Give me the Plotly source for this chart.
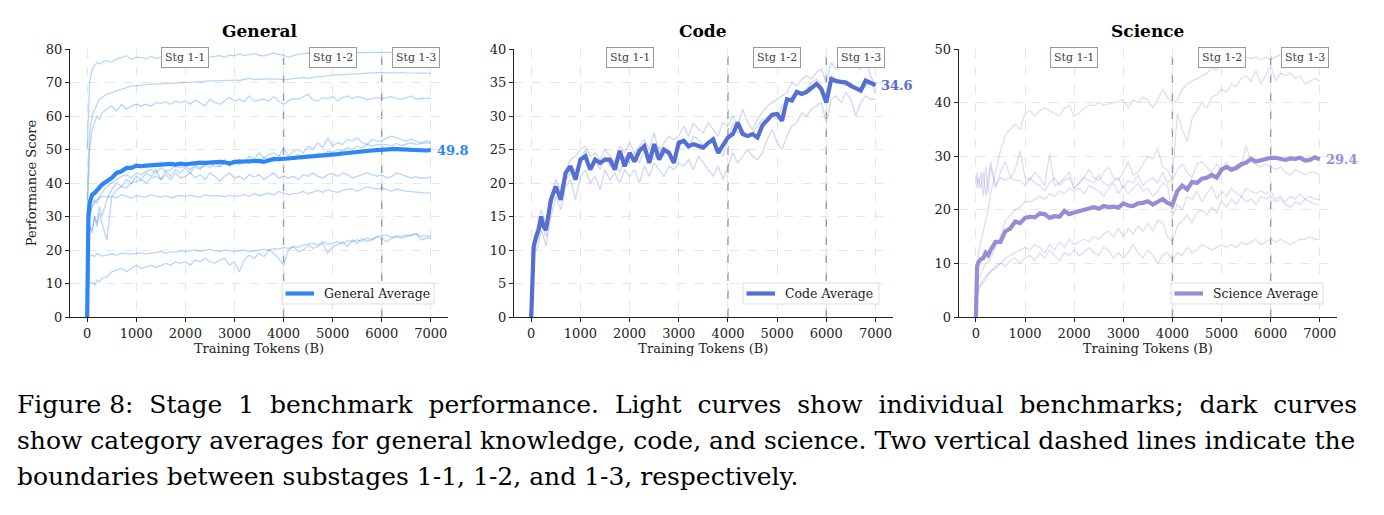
import plotly.graph_objects as go

# ---------------- data ----------------
X = [0, 25, 50, 100, 150, 200, 250, 300, 400, 500, 600, 700, 800, 900, 1000,
     1100, 1200, 1300, 1400, 1500, 1600, 1700, 1800, 1900, 2000,
     2100, 2200, 2300, 2400, 2500, 2600, 2700, 2800, 2900, 3000,
     3100, 3200, 3300, 3400, 3500, 3600, 3700, 3800, 3900, 4000,
     4100, 4200, 4300, 4400, 4500, 4600, 4700, 4800, 4900, 5000,
     5100, 5200, 5300, 5400, 5500, 5600, 5700, 5800, 5900, 6000,
     6100, 6200, 6300, 6400, 6500, 6600, 6700, 6800, 6900, 7000]

general_avg = [0, 30, 34, 36.5, 37, 38, 39, 39.5, 40.5, 41.5, 43, 43.5, 44.5, 44.5, 45.2,
               45, 45.2, 45.3, 45.5, 45.4, 45.6, 45.7, 45.5, 45.8, 45.6,
               45.8, 46, 46.1, 46, 46.2, 46.1, 46.3, 46.2, 45.8, 46.3,
               46.4, 46.2, 46.6, 46.4, 46.6, 46.3, 46.9, 47.2, 47.1, 47.2,
               47.3, 47.6, 47.5, 47.8, 47.8, 47.9, 48.2, 48.0, 48.4, 48.5,
               48.6, 48.8, 49.0, 49.1, 49.3, 49.6, 49.8, 49.7, 49.8, 50.0,
               49.9, 50.1, 50.1, 50.0, 50.0, 50.1, 49.9, 49.8, 49.7, 49.8]

general_b1 = [50, 60, 70, 74, 75, 76, 75.5, 76, 76.5, 76, 77, 77.5, 78, 77, 77.5,
              77.5, 77, 77.8, 77.2, 77.5, 78, 77, 77.5, 77.8, 77.5,
              78.5, 77.8, 77.5, 78, 77.6, 77.8, 78, 77.5, 78.2, 78,
              78.5, 78, 78.3, 78.6, 78.2, 77.9, 78.4, 78.8, 78.4, 78.2,
              77.5, 78, 78.5, 78.6, 78.8, 78.5, 78.7, 78.6, 78.8, 79,
              78.8, 79, 78.9, 79, 79, 78.9, 79, 79, 79, 79,
              79, 79.2, 79, 79.1, 79, 79.2, 79, 79.1, 79, 79]
general_b2 = [35, 45, 55, 60, 62, 63.5, 65, 65.5, 66.5, 67, 67.5, 68, 68.5, 69, 69,
              69.2, 69.3, 69.5, 69.5, 69.6, 69.8, 69.7, 70, 69.9, 70,
              70.1, 70.2, 70.2, 70.4, 70.5, 70.5, 70.6, 70.5, 70.8, 70.7,
              70.6, 71, 71.2, 70.9, 71, 71.2, 71.1, 71, 71.1, 70.8,
              70.9, 71, 71.3, 71.5, 71.2, 71.5, 71.6, 71.8, 72, 72.2,
              72.3, 72.4, 72.5, 72.6, 72.6, 72.7, 72.8, 72.8, 72.9, 73,
              72.9, 73, 72.8, 73, 72.9, 72.8, 72.9, 72.8, 72.8, 72.8]
general_b3 = [30, 40, 50, 56, 58, 60, 59, 61, 62, 63, 61.5, 63.5, 62, 63, 63.5,
              63, 63.5, 63, 64, 63.8, 64.2, 63.5, 64.5, 64, 64.5,
              63.5, 64.8, 64, 63, 65, 64, 63.5, 64.5, 65.5, 64.5,
              65, 64.2, 66, 64.5, 64.8, 65, 64.5, 65.8, 64.5, 63.5,
              64.5, 65.2, 65, 65.8, 66.5, 64.8, 64.5, 65.5, 65.2, 65.8,
              64.5, 65.5, 66, 65.2, 65.8, 65.5, 64.8, 65.2, 65.5, 65.2,
              65.5, 65.8, 65.2, 65, 65.5, 66, 65, 65.3, 65.2, 65.3]
general_b4 = [20, 22, 27, 25, 30, 28, 33, 30, 35, 38, 40, 39, 41, 40, 42,
              41, 43, 42, 44, 41, 43.5, 42, 44, 43, 44.5,
              43, 45, 44, 46, 44.5, 46, 45, 47, 45, 46.5,
              47, 46, 48, 47, 49, 47.5, 48.5, 49, 48, 50.5,
              48, 49.5, 50, 49, 51, 50, 52, 50.5, 53.5, 51,
              52, 51.5, 53, 52.5, 53.5, 52, 51.5, 53, 52.5, 52.5,
              53.5, 54, 53.5, 53, 52.5, 53, 52.5, 52, 52.5, 52.2]
general_b5 = [22, 25, 30, 33, 35, 34, 36, 37, 39, 40, 41, 42, 42.5, 41.5, 43,
              42.5, 43.5, 44, 43, 44.5, 43.5, 44, 45, 44.5, 45,
              44, 45.5, 44.5, 45.2, 46, 45, 44.8, 46, 45.5, 46.2,
              45.5, 46.5, 45.8, 47, 46.2, 47.5, 47, 46.5, 48, 47.5,
              46.8, 47.5, 48.5, 47.8, 48.5, 48, 49, 48.5, 49.5, 49.2,
              50, 49.5, 50.5, 50, 51, 50.5, 51.5, 51, 51.5, 51.3,
              51.5, 51, 51.8, 51.2, 51.5, 52, 51.5, 51.8, 52, 51.8]
general_b6 = [18, 20, 27, 26, 30, 27, 31, 28, 23, 36, 38, 39, 38.5, 40, 40.5,
              41, 40, 41.5, 42, 41, 42.5, 41, 43, 41.5, 42,
              43, 41.5, 42.5, 41, 43, 42, 40.5, 42, 43, 41.5,
              42, 41, 42.5, 41.8, 42.5, 41, 42, 43, 41.5, 42,
              41.5, 42, 41, 42.5, 42, 43, 42, 41.5, 42.5, 42.8,
              42, 43, 42.5, 41.5, 42, 42.5, 43, 42.5, 42, 42.5,
              41.5, 42, 43, 42.5, 42, 41.5, 41.8, 41.5, 41.5, 41.8]
general_b7 = [20, 25, 30, 33, 34, 35, 35.5, 36, 35.8, 36, 35.5, 36.5, 36, 35.5, 36.2,
              36, 35.8, 36.5, 36, 35.8, 36.2, 35.6, 36, 36.3, 36,
              36.4, 36, 35.8, 36.5, 36.1, 36.3, 36, 35.9, 36.3, 36,
              36.2, 36.5, 36, 36.8, 36.2, 36.6, 37, 36.4, 37.5, 37,
              36.5, 36.8, 37, 37.5, 36.8, 37.3, 37.8, 37.2, 38, 37.5,
              37.2, 37.8, 38, 38.3, 37.5, 38.2, 38.8, 38.5, 38.2, 38.5,
              38, 37.6, 38.2, 37.8, 37.5, 37.4, 37.2, 37, 37, 37.1]
general_b8 = [17, 17.5, 18, 18.5, 18, 19, 18.5, 18.2, 18.5, 18.8, 18.5, 19, 19, 18.8, 19,
              19.2, 18.8, 19, 19.3, 19.5, 19, 19.5, 19.3, 19.8, 19.5,
              19.8, 20, 19.6, 20, 20.2, 19.8, 19.5, 20, 19.8, 19.5,
              19.8, 20, 19.5, 19.8, 20, 20.2, 20, 20.5, 20.2, 20.8,
              20.5, 21, 20.8, 21.5, 21.8, 22, 21.5, 22.5, 21.8, 22,
              22.5, 21.8, 22.8, 22.5, 23, 22.6, 23.5, 23.2, 24, 24.2,
              24.5, 23.8, 24.2, 24, 24.5, 24.2, 24.8, 24, 24.2, 24]
general_b9 = [8, 9, 10, 10.5, 9.5, 11, 10.5, 11.5, 12, 13.5, 14, 14.5, 13.5, 14.5, 15.5,
              14.5, 15, 15.5, 14.8, 15.5, 16, 15.5, 16.5, 16, 16.5,
              15.5, 17, 16.5, 17.5, 16.5, 16, 17, 17.5, 15.5, 16.5,
              13.5, 17, 18.5, 17.5, 19, 18, 20, 19, 17.5, 15.5,
              20, 21, 19.5, 20, 21.5, 20.5, 21, 22, 19, 21,
              21.5, 22.5, 21, 23, 22, 23.5, 22.5, 23, 24, 23.5,
              22.5, 23.5, 24, 23.5, 24, 24.5, 25, 23, 23.5, 23.5]

code_avg = [0, 7, 10.5, 12, 13, 15, 13.5, 13, 17.5, 19.5, 17.5, 21.5, 22.5, 20.5, 23.5,
            24, 22, 23.5, 23, 23.5, 23.5, 22, 24.8, 22.5, 24.5,
            23.2, 24.8, 25.5, 23, 25.8, 23.5, 25, 24.5, 23, 26,
            26.3, 25.5, 25.8, 25.5, 25.3, 26, 26.5, 24.5, 25.8, 26.8,
            27.3, 29, 27.3, 27, 27.3, 26.8, 28.6, 29.5, 30.2, 30.3,
            29.3, 32.5, 32.3, 33.6, 33.3, 33.6, 34.2, 34.8, 34, 32,
            35.5, 35.2, 35.1, 35, 34.5, 34.2, 33.8, 35.3, 34.9, 34.6]
code_b1 = [0, 8, 11, 13, 14, 16, 15, 14, 18, 20.5, 19, 22, 23.5, 24, 25,
           25.5, 24, 24.5, 23.5, 25, 24, 23, 25.5, 24.5, 26,
           24.5, 25.5, 26.5, 25, 27.5, 24.5, 26, 27, 26.5, 27,
           28.5, 27, 29, 28, 27.5, 29, 28, 27, 29, 28.5,
           30, 28.5, 31, 29, 28, 29.5, 30.5, 31.5, 32, 32.5,
           33, 33.5, 35, 34.5, 35.5, 36, 35.5, 36.5, 37, 35,
           38, 37, 38.5, 37.5, 38, 37.5, 37, 38.5, 36, 34.5]
code_b2 = [0, 7, 10, 11, 12, 14.5, 13, 12, 16.5, 19, 18, 20.5, 21.5, 22, 23,
           25, 22.5, 23.5, 22, 24, 22.5, 23.5, 21.5, 24, 23,
           24.5, 23, 25, 24, 23.5, 25.5, 24, 25, 23.5, 25.5,
           26, 25, 27, 26.5, 25.5, 26, 27, 25, 24, 26.5,
           29, 27.5, 28, 27, 27.5, 28.5, 29.5, 29, 30, 29.5,
           31.5, 32, 33, 33.5, 33, 34, 35, 35.5, 34.5, 32.5,
           36, 35.5, 35, 34.5, 35, 34, 33.5, 34.5, 35, 33.5]
code_b3 = [0, 6, 9.5, 10, 11, 13, 12, 10.5, 15, 18, 16, 19.5, 20.5, 17.5, 21,
           22, 20, 21, 19, 22, 20.5, 21.5, 20, 22, 21,
           22, 20, 22.5, 21, 23, 22, 21, 22.5, 22, 23,
           22.5, 23.5, 22, 24, 23, 22, 21, 22.5, 20.5, 22.5,
           24.5, 23, 24, 25, 24, 23.5, 24.5, 26.5, 28, 26,
           25, 27, 28.5, 29, 30.5, 30, 31, 31.5, 32, 29,
           32.5, 33, 32, 33.5, 32.5, 30, 32, 33, 32.5, 32.5]

science_avg = [0, 9.5, 10.2, 10.8, 11, 12, 11.5, 12.5, 14, 14, 16, 16.5, 17.8, 17.5, 18.5,
               18.7, 18.6, 19.3, 19.2, 18.5, 18.8, 18.7, 19.8, 19.2, 19.5,
               19.8, 20.1, 20.3, 20.5, 20.2, 20.7, 20.5, 20.6, 20.4, 21.2,
               20.8, 20.7, 21.2, 21.3, 21.6, 21, 21.5, 22, 21.3, 20.9,
               23.5, 24.5, 23.8, 25.2, 25, 25.8, 26, 26.5, 26, 27.5,
               28, 27.5, 27.8, 28.5, 28.8, 29.5, 29, 29.3, 29.6, 29.7,
               29.7, 29.5, 29.3, 29.6, 29.5, 29.7, 29.2, 29.3, 29.8, 29.4]
science_b1 = [5, 8, 12, 14, 16, 18, 20, 23, 27, 31, 34, 35, 36, 35, 38,
              38.5, 37.5, 38.5, 39, 38.5, 38, 37.5, 39, 39.5, 37.5,
              38, 39, 39.5, 39.5, 40, 39.5, 39.8, 40, 40.2, 40.5,
              39, 40.5, 40, 41, 40.5, 39, 40.5, 42.5, 41, 40,
              40.5, 42.5, 43.5, 44, 44.5, 45, 45.5, 46.5, 46, 47,
              47.5, 48, 48.5, 48, 48.5, 48.2, 48.5, 48, 48.5, 48,
              48.5, 49, 48.5, 48.8, 48.5, 48.6, 48.5, 48.5, 48.3, 48.2]
science_b2 = [25, 27, 24, 27, 22.5, 28, 23, 29, 24.5, 26, 25.5, 26, 25.5, 25.5, 24.5,
              26, 25, 24.5, 23.5, 25, 26, 24.5, 25.5, 26, 24,
              25, 26, 25.5, 25, 26.5, 25, 24.5, 25.5, 26, 24,
              25.5, 25, 26.5, 24.5, 25.5, 26, 25, 27, 25, 26,
              38, 35, 32.7, 37, 38.5, 40, 39, 41, 41.5, 42.5,
              42, 43.5, 43, 44.5, 45, 44, 46, 43.5, 45, 47,
              44, 45.5, 45, 45.5, 44.5, 45, 43.5, 44, 44.5, 44]
science_b3 = [24, 25, 26, 24, 27, 22.5, 26, 28, 24, 27, 29, 26, 27.5, 31, 26,
              25.5, 27, 26, 24.5, 30.5, 24.5, 25, 26, 27, 24,
              25, 26, 27.5, 26, 25.5, 27, 28, 26, 25.5, 27,
              29, 26.5, 27, 28.5, 30, 29.5, 31.5, 28, 27.5, 25.5,
              27.5, 28.5, 27, 26, 28.5, 29, 28, 27, 28.5, 27.5,
              29, 27, 28.5, 28, 32, 29, 28.5, 28, 28.5, 28,
              27.5, 28, 27, 26.5, 27.5, 27, 26.5, 27, 27, 26.5]
science_b4 = [8, 5, 7, 8, 9, 10, 10, 11, 13, 15, 18, 19, 20, 20.5, 21.5,
              21.5, 22, 22.5, 22, 23, 22.5, 23.5, 23, 24, 23.5,
              24, 23, 24.5, 24, 23.5, 22.5, 24, 25, 23, 24.5,
              23, 24, 25, 23.5, 24, 22.5, 23.5, 25, 24.5, 19,
              21, 20, 22.5, 22, 23.5, 21.5, 23, 24.5, 22, 23.5,
              22.5, 24, 23, 22.5, 24, 23.5, 23, 23.5, 23, 23.5,
              22, 22.5, 21.5, 22.5, 22, 23, 22, 22.5, 22, 22]
science_b5 = [5, 4, 5, 6, 7, 7.5, 8, 8.5, 9.5, 10, 11, 11.5, 12, 12.5, 13,
              12.5, 13.5, 13, 12, 13.5, 12.5, 14, 13, 14.5, 13.5,
              14, 14.5, 14, 15, 14.5, 15.5, 16, 15, 16.5, 15,
              16.5, 15.5, 17, 16, 17.5, 16, 18, 17.5, 15, 14,
              17, 18, 19, 17.5, 19.5, 20, 19, 20.5, 19.5, 21.5,
              20.5, 22, 21, 22.5, 21.5, 22, 21, 22.5, 22, 22.5,
              21.5, 22, 21, 20.5, 21.5, 21, 22, 21.5, 21, 21]
science_b6 = [3, 3, 5, 6, 6.5, 7, 8, 8.5, 9, 10, 9.5, 10.5, 11, 10, 11,
              11.5, 10.5, 12, 11, 12.5, 11.5, 10.5, 12, 11.5, 12.5,
              11.5, 12, 13, 12, 11.5, 13, 12.5, 11, 12, 11,
              12, 13.5, 12, 11, 12.5, 11.5, 10, 11.5, 12, 10.5,
              12, 11.5, 13, 12, 12.5, 13.5, 13, 12.5, 13, 13.5,
              13, 13.5, 13, 14, 13.5, 14, 14.5, 13.5, 14, 14.5,
              14, 14.5, 14, 13.5, 14, 14.5, 14.5, 15, 14.5, 14.5]

panel_titles = ["General", "Code", "Science"]
legend_names = ["General Average", "Code Average", "Science Average"]
y_maxes = [80, 40, 50]
y_dticks = [10, 5, 10]
x_ticks = [0, 1000, 2000, 3000, 4000, 5000, 6000, 7000]
stage_bounds = [4000, 6000]
stage_labels = ["Stg 1-1", "Stg 1-2", "Stg 1-3"]
stage_label_x = [2000, 5000, 6700]
caption_lines = [
    "Figure 8:  Stage  1  benchmark  performance.  Light  curves  show  individual  benchmarks;  dark  curves",
    "show category averages for general knowledge, code, and science. Two vertical dashed lines indicate the",
    "boundaries between substages 1-1, 1-2, and 1-3, respectively.",
]

panels = [
    (general_avg, [general_b1, general_b2, general_b3, general_b4, general_b5,
                   general_b6, general_b7, general_b8, general_b9]),
    (code_avg, [code_b1, code_b2, code_b3]),
    (science_avg, [science_b1, science_b2, science_b3, science_b4, science_b5, science_b6]),
]
for avg, bs in panels:
    assert len(avg) == len(X), len(avg)
    for b in bs:
        assert len(b) == len(X), len(b)

# ---------------- style ----------------
W, H = 1384, 515
avg_colors = ["rgb(46,134,245)", "rgb(85,110,210)", "rgb(152,140,215)"]
light_colors = ["rgba(46,134,245,0.34)", "rgba(85,110,210,0.28)", "rgba(152,140,215,0.30)"]
x_px = [(70, 448), (514, 892.7), (958.7, 1337)]
y_px = (49, 317)
# legend boxes (left, right, top, bottom) in pixels
legend_box_px = [(282, 434, 283, 304), (743, 879, 283, 304), (1171, 1323, 283, 304)]
FONT = "DejaVu Serif"


def px_x(v):
    return v / W


def px_y(v):
    return 1 - v / H


fig = go.Figure()
layout_upd = {}
annotations = []
shapes = []

for i, (avg, bs) in enumerate(panels):
    sfx = "" if i == 0 else str(i + 1)
    xa, ya = "x" + sfx, "y" + sfx
    for b in bs:
        fig.add_trace(go.Scatter(x=X, y=b, mode="lines", xaxis=xa, yaxis=ya,
                                 line=dict(color=light_colors[i], width=1.3),
                                 showlegend=False, hoverinfo="skip"))
    fig.add_trace(go.Scatter(x=X, y=avg, mode="lines", xaxis=xa, yaxis=ya,
                             name=legend_names[i], showlegend=False,
                             line=dict(color=avg_colors[i], width=4.2)))

    x0, x1 = x_px[i]
    layout_upd["xaxis" + sfx] = dict(
        domain=[x0 / W, x1 / W], anchor=ya, range=[-350, 7350],
        tickvals=x_ticks, ticks="outside", ticklen=4, tickwidth=1, tickcolor="#222",
        showline=True, linecolor="#222", linewidth=1.3, mirror=False,
        showgrid=True, gridcolor="#e6e6e6", griddash="dash", gridwidth=0.8,
        zeroline=False, automargin=False,
        tickfont=dict(family=FONT, size=13, color="#222"),
        title=dict(text="Training Tokens (B)", standoff=3,
                   font=dict(family=FONT, size=13, color="#222")),
    )
    ydict = dict(
        domain=[1 - y_px[1] / H, 1 - y_px[0] / H], anchor=xa, range=[0, y_maxes[i]],
        dtick=y_dticks[i], tick0=0, ticks="outside", ticklen=4, tickwidth=1, tickcolor="#222",
        showline=True, linecolor="#222", linewidth=1.3,
        showgrid=True, gridcolor="#e6e6e6", griddash="dash", gridwidth=0.8,
        zeroline=False, automargin=False,
        tickfont=dict(family=FONT, size=13, color="#222"),
    )
    if i == 0:
        ydict["title"] = dict(text="Performance Score", standoff=6,
                              font=dict(family=FONT, size=13, color="#222"))
    layout_upd["yaxis" + sfx] = ydict

    # legend (drawn as box + sample line + label)
    L, R, T, B = legend_box_px[i]
    shapes.append(dict(type="rect", xref="paper", yref="paper",
                       x0=px_x(L), x1=px_x(R), y0=px_y(B), y1=px_y(T),
                       line=dict(color="#dddddd", width=1), fillcolor="rgba(255,255,255,0.85)",
                       layer="above"))
    my = (T + B) / 2
    shapes.append(dict(type="line", xref="paper", yref="paper",
                       x0=px_x(L + 3.5), x1=px_x(L + 32), y0=px_y(my), y1=px_y(my),
                       line=dict(color=avg_colors[i], width=4.2), layer="above"))
    annotations.append(dict(text=legend_names[i], xref="paper", yref="paper",
                            x=px_x(L + 40), y=px_y(my), xanchor="left", yanchor="middle",
                            showarrow=False, font=dict(family=FONT, size=12.5, color="#222")))

    # panel title
    annotations.append(dict(text=panel_titles[i], xref=xa + " domain", yref="paper",
                            x=0.5, y=px_y(31), xanchor="center", yanchor="middle",
                            showarrow=False,
                            font=dict(family=FONT, size=17, color="#000", weight=700)))
    # final value label
    annotations.append(dict(text=f"{avg[-1]:.1f}", xref=xa, yref=ya, x=X[-1], y=avg[-1],
                            xanchor="left", yanchor="middle", xshift=4, showarrow=False,
                            font=dict(family=FONT, size=13, color=avg_colors[i], weight=700)))
    # stage labels
    for lab, lx in zip(stage_labels, stage_label_x):
        annotations.append(dict(text=lab, xref=xa, yref=ya + " domain", x=lx, y=0.967,
                                xanchor="center", yanchor="middle", showarrow=False,
                                bgcolor="white", bordercolor="#999999", borderwidth=1, borderpad=3,
                                font=dict(family=FONT, size=11, color="#444")))
    # stage boundaries
    for sb in stage_bounds:
        shapes.append(dict(type="line", xref=xa, yref=ya + " domain", x0=sb, x1=sb, y0=0, y1=1,
                           line=dict(color="#9a9a9a", width=1.4, dash="dash"), layer="below"))

caption_y_px = [404, 440, 476]
for line, cy in zip(caption_lines, caption_y_px):
    annotations.append(dict(text=line, xref="paper", yref="paper", x=px_x(15), y=px_y(cy),
                            xanchor="left", yanchor="middle", showarrow=False,
                            font=dict(family="DejaVu Serif", size=25, color="#000")))

fig.update_layout(
    width=W, height=H, margin=dict(l=0, r=0, t=0, b=0),
    plot_bgcolor="white", paper_bgcolor="white",
    font=dict(family=FONT, size=13, color="#222"),
    annotations=annotations, shapes=shapes, showlegend=False,
    **layout_upd,
)

fig.write_html("out.html")
